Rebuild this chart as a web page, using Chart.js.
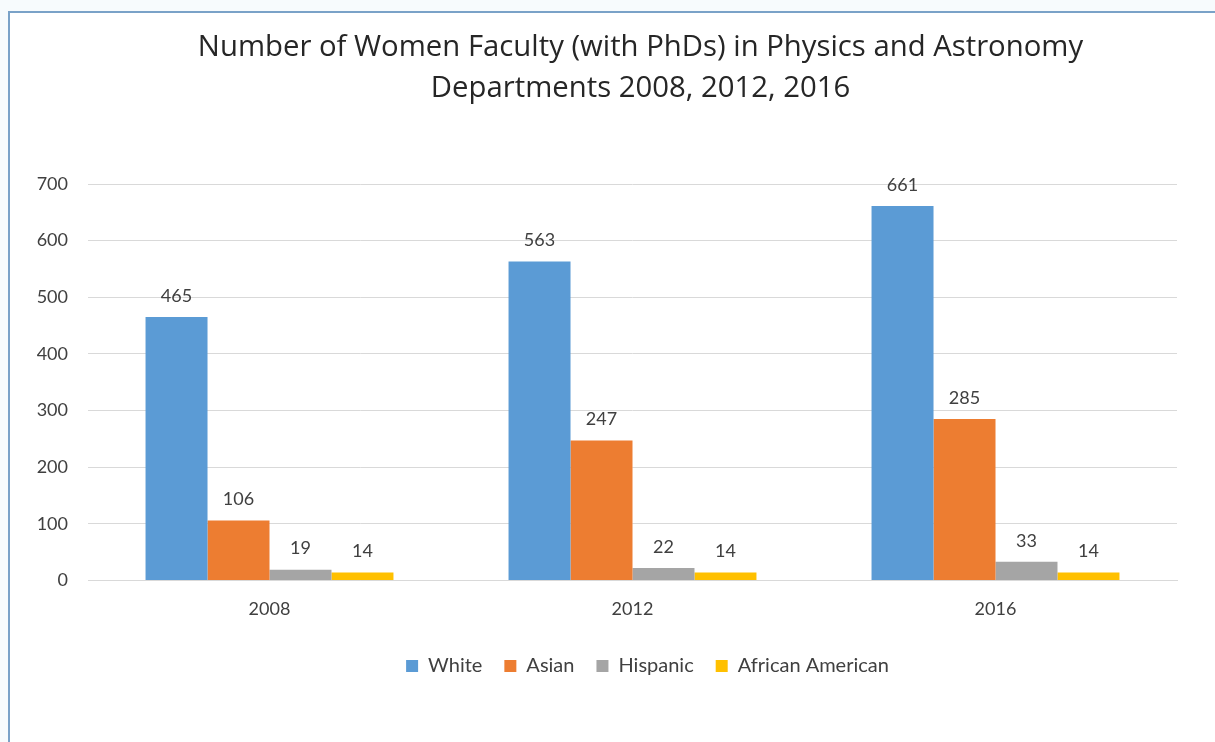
<!DOCTYPE html>
<html>
<head>
<meta charset="utf-8">
<script src="https://cdn.jsdelivr.net/npm/chart.js@4"></script>
<style>
  html, body { margin: 0; padding: 0; background: #f7fbfd; }
  #wrap { position: absolute; left: 0; top: 0; width: 1215px; height: 742px; }
  #frame { position: absolute; left: 8px; top: 11px; width: 1220px; height: 740px;
           border: 2px solid #7aa2c8; background: #fff; box-sizing: border-box; }
  canvas { position: absolute; left: 0; top: 0; }
</style>
</head>
<body>
<div id="wrap">
  <div id="frame"></div>
  <canvas id="myChart" width="1215" height="742"></canvas>
</div>
<script>
var years = ['2008', '2012', '2016'];
var white = [465, 563, 661];
var asian = [106, 247, 285];
var hispanic = [19, 22, 33];
var africanAmerican = [14, 14, 14];
var yTicks = [0, 100, 200, 300, 400, 500, 600, 700];

var labelFont = 'Lato, "Open Sans", sans-serif';

// draws the value above each bar
var valueLabels = {
    id: 'valueLabels',
    afterDatasetsDraw: function (chart) {
        var ctx = chart.ctx;
        ctx.save();
        ctx.font = '18px ' + labelFont;
        ctx.fillStyle = '#404040';
        ctx.textAlign = 'center';
        ctx.textBaseline = 'bottom';
        chart.data.datasets.forEach(function (ds, i) {
            chart.getDatasetMeta(i).data.forEach(function (bar, j) {
                ctx.fillText(ds.data[j], bar.x, bar.y - 12);
            });
        });
        ctx.restore();
    }
};

// the original has title and legend a bit right of the canvas centre
var nudgeBoxes = {
    id: 'nudgeBoxes',
    afterLayout: function (chart) {
        chart.titleBlock.left += 8;
        chart.titleBlock.right += 8;
        chart.legend.left += 118;
        chart.legend.top -= 4;
        chart.legend.bottom -= 4;
    }
};

function loadChart() {
    var ctx = document.getElementById('myChart').getContext('2d');
    new Chart(ctx, {
        type: 'bar',
        data: {
            labels: years,
            datasets: [
                { label: 'White', data: white, backgroundColor: '#5b9bd5' },
                { label: 'Asian', data: asian, backgroundColor: '#ed7d31' },
                { label: 'Hispanic', data: hispanic, backgroundColor: '#a5a5a5' },
                { label: 'African American', data: africanAmerican, backgroundColor: '#ffc000' }
            ]
        },
        options: {
            responsive: false,
            animation: false,
            categoryPercentage: 0.683,
            barPercentage: 1.0,
            layout: { padding: { left: 0, right: 38, top: 0, bottom: 52 } },
            scales: {
                y: {
                    min: 0,
                    max: 700,
                    afterFit: function (scale) { scale.width = 88; },
                    afterBuildTicks: function (scale) {
                        scale.ticks = yTicks.map(function (v) { return { value: v }; });
                    },
                    border: { display: false },
                    grid: { color: '#d9d9d9', drawTicks: false },
                    ticks: {
                        padding: 20,
                        color: '#404040',
                        font: { family: labelFont, size: 18 }
                    }
                },
                x: {
                    border: { color: '#d9d9d9' },
                    grid: { display: false, drawTicks: false },
                    ticks: {
                        padding: 18,
                        color: '#404040',
                        font: { family: labelFont, size: 18 }
                    }
                }
            },
            plugins: {
                title: {
                    display: true,
                    fullSize: false,
                    text: ['Number of Women Faculty (with PhDs) in Physics and Astronomy',
                           'Departments 2008, 2012, 2016'],
                    color: '#262626',
                    font: { family: '"Open Sans", sans-serif', size: 29.3, weight: 'normal', lineHeight: 1.4 },
                    padding: { top: 27, bottom: 75 }
                },
                legend: {
                    position: 'bottom',
                    labels: {
                        boxWidth: 12,
                        boxHeight: 12,
                        padding: 22,
                        color: '#404040',
                        font: { family: labelFont, size: 20 }
                    }
                },
                tooltip: { enabled: false }
            }
        },
        plugins: [valueLabels, nudgeBoxes]
    });
}
loadChart();
</script>
</body>
</html>
